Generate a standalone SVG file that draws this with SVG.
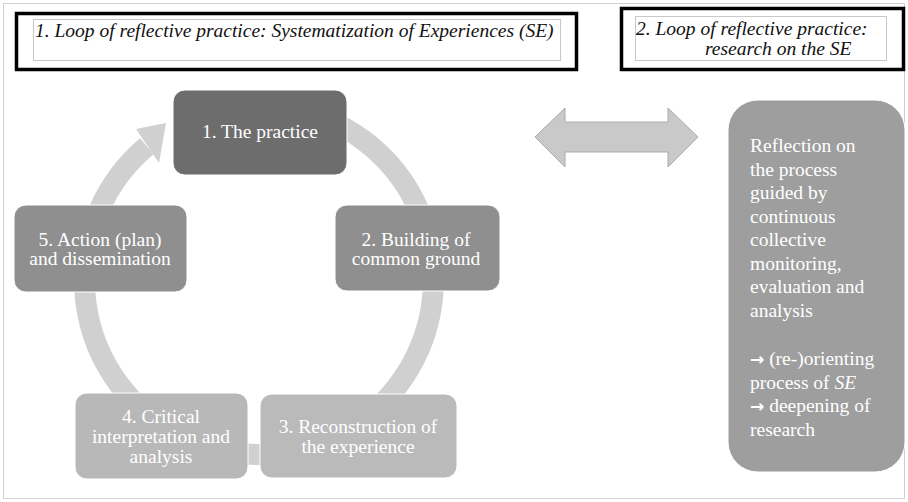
<svg xmlns="http://www.w3.org/2000/svg" width="908" height="502" viewBox="0 0 908 502">
<style>
.t{font-family:'Liberation Serif','DejaVu Serif',serif;font-size:19.5px;fill:#fff}
.c{text-anchor:middle}
.ti{font-family:'Liberation Serif','DejaVu Serif',serif;font-size:19.5px;font-style:italic;fill:#111}
.ar{font-family:'DejaVu Sans',sans-serif;font-weight:bold;font-size:17px}
.outer{fill:#fff;stroke:#000;stroke-width:3.5}
.inner{fill:#fff;stroke:#c8c8c8;stroke-width:1}
.node{stroke:#fff;stroke-width:1}
</style>
<rect x="3.5" y="3.5" width="901" height="495" fill="#fff" stroke="#d0d0d0" stroke-width="1"/>
<g id="title1">
<rect class="outer" x="16.5" y="13.5" width="560" height="56"/>
<rect class="inner" x="33.5" y="19.5" width="527" height="41"/>
<text class="ti" x="35" y="37">1. Loop of reflective practice: Systematization of Experiences (SE)</text>
</g>
<g id="title2">
<rect class="outer" x="621.5" y="8.5" width="282" height="61"/>
<rect class="inner" x="635.5" y="16.5" width="251" height="44"/>
<text class="ti" x="636" y="35">2. Loop of reflective practice:</text>
<text class="ti" x="705" y="55">research on the SE</text>
</g>
<g id="connectors">
<path d="M199.3,116 A174.5,174.5 0 1 1 146.8,146.3" fill="none" stroke="#d0d0d0" stroke-width="21"/>
<polygon points="136,129 166,123 159,163" fill="#d0d0d0"/>
<polygon points="535,137 565,108 565,122 668,122 668,108 698,137 668,167 668,152 565,152 565,167" fill="#c9c9c9" stroke="#ababab" stroke-width="1"/>
</g>
<g id="node1">
<rect class="node" x="173" y="90" width="174" height="85" rx="12" fill="#6d6d6d"/>
<text class="t c" x="260" y="138">1. The practice</text>
</g>
<g id="node2">
<rect class="node" x="335" y="205" width="165" height="86" rx="12" fill="#8f8f8f"/>
<text class="t c" x="416" y="246">2. Building of</text>
<text class="t c" x="416" y="265">common ground</text>
</g>
<g id="node3">
<rect class="node" x="260" y="394" width="197" height="84" rx="12" fill="#bababa"/>
<text class="t c" x="358" y="433">3. Reconstruction of</text>
<text class="t c" x="358" y="453">the experience</text>
</g>
<g id="node4">
<rect class="node" x="75" y="393" width="173" height="86" rx="12" fill="#b8b8b8"/>
<text class="t c" x="161" y="423">4. Critical</text>
<text class="t c" x="161" y="443">interpretation and</text>
<text class="t c" x="161" y="463">analysis</text>
</g>
<g id="node5">
<rect class="node" x="14" y="205" width="173" height="87" rx="12" fill="#8f8f8f"/>
<text class="t c" x="100" y="245.5">5. Action (plan)</text>
<text class="t c" x="100" y="265">and dissemination</text>
</g>
<g id="reflection">
<rect class="node" x="728" y="100" width="177" height="372" rx="30" fill="#9e9e9e"/>
<text class="t" x="750" y="152">Reflection on</text>
<text class="t" x="750" y="175.5">the process</text>
<text class="t" x="750" y="199">guided by</text>
<text class="t" x="750" y="222.5">continuous</text>
<text class="t" x="750" y="246">collective</text>
<text class="t" x="750" y="269.5">monitoring,</text>
<text class="t" x="750" y="293">evaluation and</text>
<text class="t" x="750" y="316.5">analysis</text>
<text class="t" x="750" y="365"><tspan class="ar">→</tspan> (re-)orienting</text>
<text class="t" x="750" y="388.5">process of <tspan font-style="italic">SE</tspan></text>
<text class="t" x="750" y="412"><tspan class="ar">→</tspan> deepening of</text>
<text class="t" x="750" y="435.5">research</text>
</g>
</svg>
